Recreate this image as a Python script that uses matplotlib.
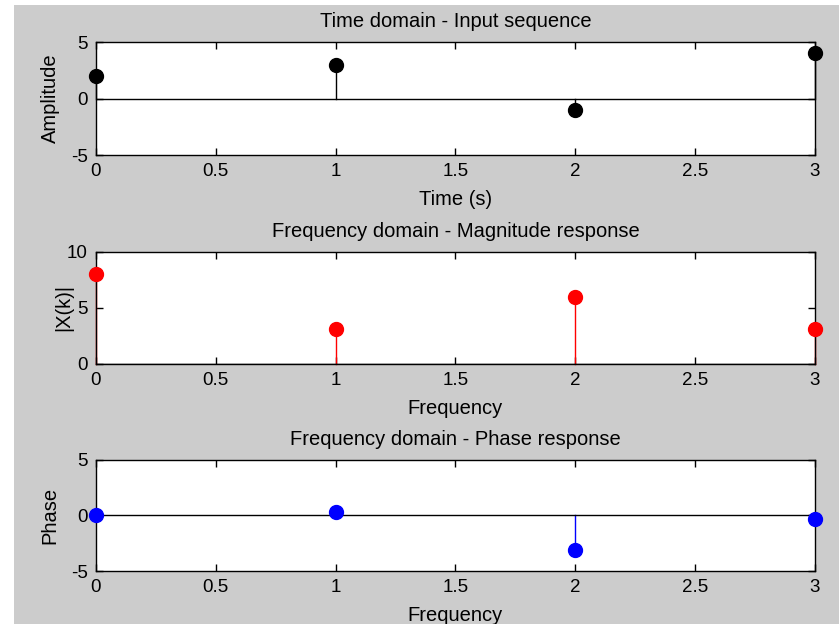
import numpy as np
import matplotlib.pyplot as plt
from matplotlib.patches import Rectangle

plt.rcParams['font.family'] = ['Liberation Sans', 'DejaVu Sans']
plt.rcParams['axes.unicode_minus'] = False

# values
n = [0, 1, 2, 3]
x_seq = [2, 3, -1, 4]
k = [0, 1, 2, 3]
mag = [8, 3.16, 6, 3.16]
phase = [0, 0.32, -3.14, -0.32]

FS = 14.5   # titles / axis labels
TFS = 13.5  # tick labels

fig = plt.figure(figsize=(8.39, 6.24), dpi=100, facecolor='#cccccc')
# white strip on the left / top edge of the screenshot
fig.patches.append(Rectangle((0, 0), 14 / 839, 1, transform=fig.transFigure,
                             facecolor='white', edgecolor='none', zorder=-1))
fig.patches.append(Rectangle((0, 1 - 5 / 624), 1, 5 / 624, transform=fig.transFigure,
                             facecolor='white', edgecolor='none', zorder=-1))

boxes = [[0.1144, 0.7516, 0.857, 0.181],
         [0.1144, 0.4167, 0.857, 0.1795],
         [0.1144, 0.0849, 0.857, 0.178]]

def stem_plot(ax, xs, ys, color):
    for xi, yi in zip(xs, ys):
        ax.plot([xi, xi], [0, yi], color=color, lw=1, clip_on=False)
    ax.plot(xs, ys, 'o', color=color, ms=10, clip_on=False, zorder=5)
    ax.axhline(0, color='black', lw=1)

def style(ax, ylim, yticks):
    ax.set_xlim(0, 3)
    ax.set_ylim(*ylim)
    ax.set_xticks([0, 0.5, 1, 1.5, 2, 2.5, 3])
    ax.set_xticklabels(['0', '0.5', '1', '1.5', '2', '2.5', '3'])
    ax.set_yticks(yticks)
    ax.tick_params(direction='in', top=True, right=True, length=5, width=1,
                   labelsize=TFS, pad=6)
    for s in ax.spines.values():
        s.set_linewidth(1)

ax1 = fig.add_axes(boxes[0])
stem_plot(ax1, n, x_seq, 'black')
style(ax1, (-5, 5), [-5, 0, 5])
ax1.set_title('Time domain - Input sequence', fontsize=FS, pad=11)
ax1.set_xlabel('Time (s)', fontsize=FS, labelpad=7)
ax1.set_ylabel('Amplitude', fontsize=FS)
ax1.yaxis.set_label_coords(-0.050, 0.5)

ax2 = fig.add_axes(boxes[1])
stem_plot(ax2, k, mag, 'red')
style(ax2, (0, 10), [0, 5, 10])
ax2.set_title('Frequency domain - Magnitude response', fontsize=FS, pad=11)
ax2.set_xlabel('Frequency', fontsize=FS, labelpad=7)
ax2.set_ylabel('|X(k)|', fontsize=FS)
ax2.yaxis.set_label_coords(-0.032, 0.5)

ax3 = fig.add_axes(boxes[2])
stem_plot(ax3, k, phase, 'blue')
style(ax3, (-5, 5), [-5, 0, 5])
ax3.set_title('Frequency domain - Phase response', fontsize=FS, pad=11)
ax3.set_xlabel('Frequency', fontsize=FS, labelpad=7)
ax3.set_ylabel('Phase', fontsize=FS)
ax3.yaxis.set_label_coords(-0.051, 0.5)

fig.savefig('out.png', dpi=100, facecolor=fig.get_facecolor())
